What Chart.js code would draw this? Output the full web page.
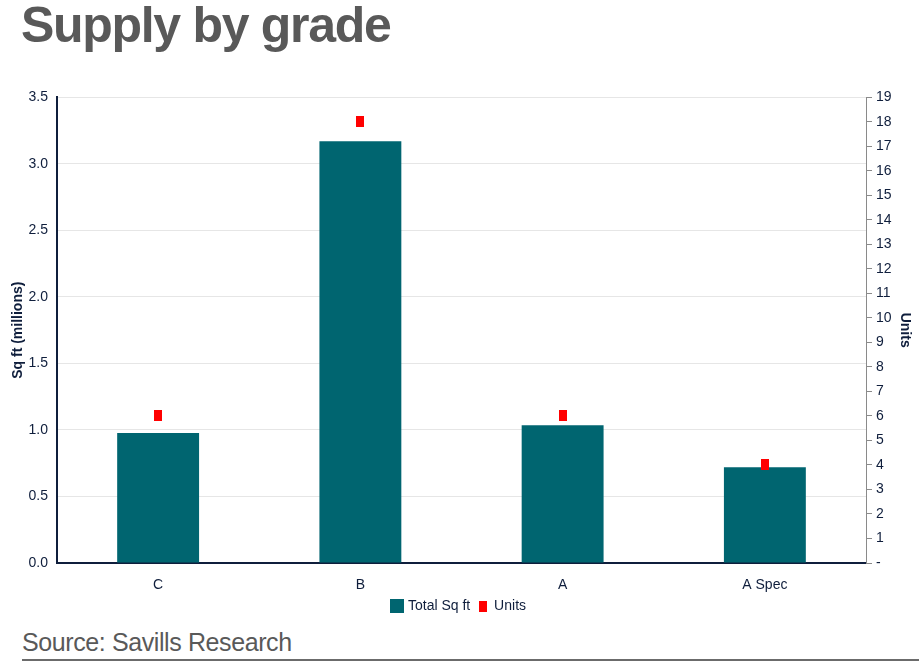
<!DOCTYPE html>
<html>
<head>
<meta charset="utf-8">
<script src="https://cdn.jsdelivr.net/npm/chart.js@4.4.1/dist/chart.umd.min.js"></script>
<style>
  html, body { margin: 0; padding: 0; background: #fff; width: 919px; height: 668px; overflow: hidden; }
  #title { position: absolute; left: 21px; top: -4px; font: bold 50px "Liberation Sans", Arial, sans-serif; color: #595959; letter-spacing: -1.3px; }
  #wrap { position: absolute; left: 0; top: 80px; width: 919px; height: 543px; }
  #source { position: absolute; left: 22px; top: 628px; font: 25px "Liberation Sans", Arial, sans-serif; color: #595959; letter-spacing: -0.4px; }
  #rule { position: absolute; left: 22px; top: 659px; width: 897px; height: 2px; background: #6b6b6b; }
</style>
</head>
<body>
<div id="title">Supply by grade</div>
<div id="wrap"><canvas id="chart"></canvas></div>
<div id="source">Source: Savills Research</div>
<div id="rule"></div>
<script>
const grades = ['C', 'B', 'A', 'A Spec'];
const totalSqFt = [0.977, 3.17, 1.035, 0.72];
const units = [6, 18, 6, 4];

const navy = '#0f1e3c';
const teal = '#006570';
const tickFont = { family: '"Liberation Sans", Arial, sans-serif', size: 14 };

// red marker a bit taller than wide, like the original
const marker = document.createElement('canvas');
marker.width = 8; marker.height = 11;
const mctx = marker.getContext('2d');
mctx.fillStyle = '#ff0000';
mctx.fillRect(0, 0, 8, 11);

const ctx = document.getElementById('chart').getContext('2d');
new Chart(ctx, {
  data: {
    labels: grades,
    datasets: [
      {
        type: 'bar',
        label: 'Total Sq ft',
        data: totalSqFt,
        backgroundColor: teal,
        yAxisID: 'y',
        barPercentage: 0.81,
        categoryPercentage: 0.5,
        order: 2
      },
      {
        type: 'line',
        label: 'Units',
        data: units,
        showLine: false,
        pointStyle: marker,
        backgroundColor: '#ff0000',
        borderColor: '#ff0000',
        yAxisID: 'y1',
        order: 1
      }
    ]
  },
  options: {
    responsive: true,
    maintainAspectRatio: false,
    animation: false,
    layout: { padding: { top: 12, left: 0, right: 0, bottom: 0 } },
    plugins: {
      legend: {
        position: 'bottom',
        labels: {
          usePointStyle: true,
          color: navy,
          font: tickFont,
          boxWidth: 8,
          padding: 5,
          generateLabels(chart) {
            return chart.data.datasets.map((ds, i) => ({
              text: i === 0 ? ds.label + ' ' : ds.label,
              fillStyle: i === 0 ? teal : '#ff0000',
              strokeStyle: i === 0 ? teal : '#ff0000',
              lineWidth: 0,
              pointStyle: i === 0 ? 'rect' : marker,
              datasetIndex: i,
              fontColor: navy
            }));
          }
        }
      },
      tooltip: { enabled: false }
    },
    scales: {
      x: {
        grid: { display: false, drawTicks: false },
        border: { color: navy, width: 2 },
        ticks: { color: navy, font: tickFont, padding: 14 },
        afterFit(scale) { scale.height = 31; }
      },
      y: {
        position: 'left',
        min: 0,
        max: 3.5,
        ticks: {
          stepSize: 0.5,
          color: navy,
          font: tickFont,
          padding: 9,
          callback: v => v.toFixed(1)
        },
        grid: { color: '#e6e6e6', drawTicks: false },
        border: { color: navy, width: 2 },
        title: {
          display: true,
          text: 'Sq ft (millions)',
          color: navy,
          font: { family: '"Liberation Sans", Arial, sans-serif', size: 14, weight: 'bold' },
          padding: { top: 10, bottom: 0 }
        },
        afterFit(scale) { scale.width = 57; }
      },
      y1: {
        position: 'right',
        min: 0,
        max: 19,
        ticks: {
          stepSize: 1,
          color: navy,
          font: tickFont,
          padding: 4,
          callback: v => v === 0 ? '-' : v
        },
        grid: { drawOnChartArea: false, color: '#8a8a8a', tickLength: 6 },
        border: { color: '#8a8a8a', width: 1 },
        title: {
          display: true,
          text: 'Units',
          color: navy,
          font: { family: '"Liberation Sans", Arial, sans-serif', size: 14, weight: 'bold' },
          padding: { top: 6, bottom: 0 }
        },
        afterFit(scale) { scale.width = 919 - 866; }
      }
    }
  }
});
</script>
</body>
</html>
